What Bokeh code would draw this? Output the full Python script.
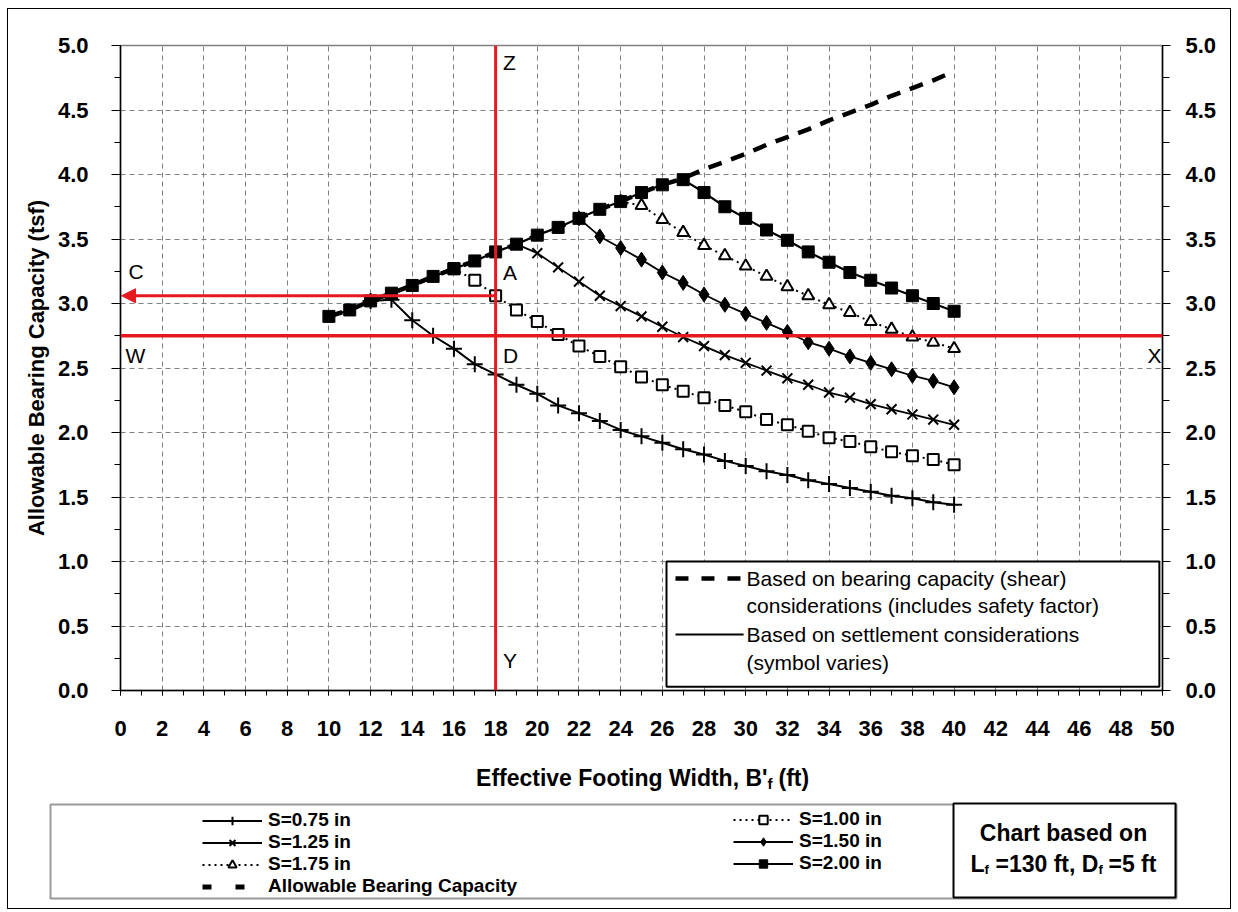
from bokeh.plotting import figure
from bokeh.models import (Range1d, LinearAxis, SingleIntervalTicker, NumeralTickFormatter, Div,
                          Span, Arrow, NormalHead, Label, BoxAnnotation, Legend, LegendItem, Grid)
from bokeh.embed import file_html
from bokeh.resources import INLINE

# ---------------- data ----------------
width_bc = list(range(10, 41))
bearing_tsf = [2.90, 2.95, 3.02, 3.08, 3.14, 3.21, 3.27, 3.33, 3.40, 3.46, 3.53, 3.59, 3.66,
               3.73, 3.79, 3.86, 3.92, 3.97, 4.04, 4.10, 4.16, 4.23, 4.29, 4.35, 4.42, 4.48,
               4.54, 4.61, 4.67, 4.73, 4.80]

width_075 = list(range(12, 41))
s075 = [3.02, 3.03, 2.87, 2.75, 2.65, 2.53, 2.45, 2.37, 2.30, 2.21, 2.15, 2.09, 2.02, 1.97,
        1.92, 1.87, 1.83, 1.78, 1.74, 1.70, 1.67, 1.63, 1.60, 1.57, 1.54, 1.51, 1.49, 1.46, 1.44]

width_100 = list(range(16, 41))
s100 = [3.27, 3.18, 3.06, 2.95, 2.86, 2.76, 2.67, 2.59, 2.51, 2.43, 2.37, 2.32, 2.27, 2.21,
        2.16, 2.10, 2.06, 2.01, 1.96, 1.93, 1.89, 1.85, 1.82, 1.79, 1.75]

width_125 = list(range(19, 41))
s125 = [3.46, 3.39, 3.28, 3.17, 3.06, 2.98, 2.90, 2.82, 2.74, 2.67, 2.60, 2.54, 2.48, 2.42,
        2.37, 2.31, 2.27, 2.22, 2.18, 2.14, 2.10, 2.06]

width_150 = list(range(22, 41))
s150 = [3.66, 3.52, 3.43, 3.34, 3.24, 3.16, 3.07, 2.99, 2.92, 2.85, 2.78, 2.70, 2.65, 2.59,
        2.54, 2.49, 2.44, 2.40, 2.35]

width_175 = list(range(24, 41))
s175 = [3.79, 3.76, 3.65, 3.55, 3.45, 3.37, 3.29, 3.21, 3.13, 3.06, 2.99, 2.93, 2.86, 2.80,
        2.74, 2.70, 2.65]

width_200 = list(range(10, 41))
s200 = [2.90, 2.95, 3.02, 3.08, 3.14, 3.21, 3.27, 3.33, 3.40, 3.46, 3.53, 3.59, 3.66, 3.73,
        3.79, 3.86, 3.92, 3.96, 3.86, 3.75, 3.66, 3.57, 3.49, 3.40, 3.32, 3.24, 3.18, 3.12,
        3.06, 3.00, 2.94]

example_width = 18
example_capacity = 3.06
design_capacity = 2.75

x_labels_step = 2
y_labels_step = 0.5

# ---------------- styling ----------------
RED = "#e5191f"
FONT = "Liberation Sans"
CANVAS_W = 1224

p = figure(width=CANVAS_W, height=755, x_range=Range1d(0, 50), y_range=Range1d(0, 5),
           output_backend="svg", toolbar_location=None,
           x_axis_type=None, y_axis_type=None,
           min_border_left=112, min_border_right=70, min_border_top=36, min_border_bottom=74)
p.outline_line_color = "#808080"
p.outline_line_width = 1.5
p.background_fill_color = "white"
p.border_fill_color = "white"

xticker = SingleIntervalTicker(interval=x_labels_step, num_minor_ticks=2)
yticker = SingleIntervalTicker(interval=y_labels_step, num_minor_ticks=2)


def style_axis(ax):
    ax.axis_line_color = "black"
    ax.axis_line_width = 1.5
    ax.major_tick_line_color = "black"
    ax.minor_tick_line_color = "black"
    ax.major_tick_line_width = 1
    ax.minor_tick_line_width = 1
    ax.major_tick_in = 0
    ax.minor_tick_in = 0
    ax.major_label_text_font = FONT
    ax.major_label_text_font_style = "bold"
    ax.major_label_text_font_size = "22px"
    ax.major_label_text_color = "black"


xaxis = LinearAxis(ticker=xticker)
style_axis(xaxis)
xaxis.major_tick_out = 5
xaxis.minor_tick_out = 5
xaxis.major_label_standoff = 25
p.add_layout(xaxis, "below")

yaxis = LinearAxis(ticker=yticker, formatter=NumeralTickFormatter(format="0.0"),
                   axis_label="Allowable Bearing Capacity (tsf)")
style_axis(yaxis)
yaxis.major_tick_out = 9
yaxis.minor_tick_out = 6
yaxis.major_label_standoff = 23
yaxis.axis_label_text_font = FONT
yaxis.axis_label_text_font_style = "bold"
yaxis.axis_label_text_font_size = "22px"
yaxis.axis_label_text_color = "black"
yaxis.axis_label_standoff = 6
p.add_layout(yaxis, "left")

yaxis_r = LinearAxis(ticker=yticker, formatter=NumeralTickFormatter(format="0.0"))
style_axis(yaxis_r)
yaxis_r.major_tick_out = 8
yaxis_r.minor_tick_out = 7
yaxis_r.major_label_standoff = 15
p.add_layout(yaxis_r, "right")

p.add_layout(Grid(dimension=0, ticker=xticker, grid_line_color="#808080",
                  grid_line_dash="5 4", grid_line_width=1))
p.add_layout(Grid(dimension=1, ticker=yticker, grid_line_color="#808080",
                  grid_line_dash="5 4", grid_line_width=1))

# ---------------- series ----------------
STY = {
    "bc": dict(line_color="black", line_width=4.5, line_dash="14 10"),
    "075": (dict(line_color="black", line_width=2),
            dict(marker="cross", size=16, line_color="black", line_width=2)),
    "100": (dict(line_color="black", line_width=2, line_dash="2 4"),
            dict(marker="square", size=11, line_color="black", fill_color="white", line_width=2)),
    "125": (dict(line_color="black", line_width=1.8),
            dict(marker="x", size=14, line_color="black", line_width=2)),
    "150": (dict(line_color="black", line_width=1.8),
            dict(marker="diamond", size=15, line_color="black", fill_color="black")),
    "175": (dict(line_color="black", line_width=2, line_dash="2 4"),
            dict(marker="triangle", size=12, line_color="black", fill_color="white", line_width=2)),
    "200": (dict(line_color="black", line_width=2.2),
            dict(marker="square", size=12, line_color="black", fill_color="black")),
}

p.line(width_bc, bearing_tsf, **STY["bc"])
for xs, ys, key in [(width_075, s075, "075"), (width_100, s100, "100"), (width_125, s125, "125"),
                    (width_150, s150, "150"), (width_175, s175, "175"), (width_200, s200, "200")]:
    p.line(xs, ys, **STY[key][0])
    p.scatter(xs, ys, **STY[key][1])

# ---------------- red reading guides ----------------
p.add_layout(Span(location=example_width, dimension="height", line_color=RED, line_width=3))
p.add_layout(Span(location=design_capacity, dimension="width", line_color=RED, line_width=3.5))
p.add_layout(Arrow(end=NormalHead(size=14, fill_color=RED, line_color=RED),
                   x_start=example_width, y_start=example_capacity, x_end=0.05,
                   y_end=example_capacity, line_color=RED, line_width=3))


def lab(fig, x, y, text, size="21px", align="left", style="normal", x_offset=0):
    fig.add_layout(Label(x=x, y=y, text=text, text_font=FONT, text_font_size=size,
                         text_font_style=style, text_align=align, text_baseline="middle",
                         text_color="black", x_offset=x_offset))


lab(p, 18.35, 4.87, "Z")
lab(p, 18.35, 3.24, "A")
lab(p, 18.35, 2.60, "D")
lab(p, 18.35, 0.23, "Y")
lab(p, 0.38, 3.25, "C")
lab(p, 0.24, 2.60, "W")
lab(p, 49.95, 2.60, "X", align="right")

# ---------------- inner key box ----------------
p.add_layout(BoxAnnotation(left=26.2, right=49.85, top=1.0, bottom=0.03,
                           fill_color="white", fill_alpha=1, line_color="black",
                           line_width=2, line_alpha=1))
p.add_layout(Arrow(end=None, x_start=26.63, x_end=29.9, y_start=0.868, y_end=0.868,
                   line_color="black", line_width=4.5, line_dash="13 13"))
p.add_layout(Arrow(end=None, x_start=26.63, x_end=29.9, y_start=0.434, y_end=0.434,
                   line_color="black", line_width=2))
lab(p, 30.04, 0.868, "Based on bearing capacity (shear)")
lab(p, 30.04, 0.659, "considerations (includes safety factor)")
lab(p, 30.04, 0.434, "Based on settlement considerations")
lab(p, 30.04, 0.217, "(symbol varies)")

# ---------------- lower panel: axis title and legends (page-pixel coordinates) ----------------
P2_TOP, P2_BOTTOM = 764, 909
p2 = figure(width=CANVAS_W, height=P2_BOTTOM - P2_TOP, x_range=Range1d(8, 8 + CANVAS_W),
            y_range=Range1d(P2_BOTTOM, P2_TOP), output_backend="svg", toolbar_location=None,
            x_axis_type=None, y_axis_type=None,
            min_border=0, min_border_left=0, min_border_right=0, min_border_top=0,
            min_border_bottom=0)
p2.outline_line_color = None
p2.grid.visible = False
p2.background_fill_color = "white"
p2.border_fill_color = "white"

# x axis title with subscript
lab(p2, 642, 777, "Effective Footing Width, B'", size="23px", style="bold", align="right", x_offset=125)
lab(p2, 642, 783, "f", size="15px", style="bold", x_offset=125)
lab(p2, 642, 777, "(ft)", size="23px", style="bold", x_offset=136)

# legend frame
p2.add_layout(BoxAnnotation(left=50, right=1176, top=804, bottom=898, fill_alpha=0,
                            line_color="#9a9a9a", line_width=2, line_alpha=1))

# legend keys: renderers carrying the series styles, with one point outside the visible range
OFF = [-500]
k = {}
for key in ["075", "100", "125", "150", "175", "200"]:
    k[key] = [p2.line(OFF, OFF, **STY[key][0]), p2.scatter(OFF, OFF, **STY[key][1])]
k_bc = [p2.line(OFF, OFF, line_color="black", line_width=5, line_dash="9 24")]

common = dict(border_line_alpha=0, background_fill_alpha=0, padding=0, margin=0, spacing=0,
              label_standoff=6, glyph_width=60, glyph_height=21, label_height=21,
              label_text_font=FONT, label_text_font_size="19px", label_text_font_style="bold",
              label_text_color="black")
leg_left = Legend(items=[
    LegendItem(label="S=0.75 in", renderers=k["075"]),
    LegendItem(label="S=1.25 in", renderers=k["125"]),
    LegendItem(label="S=1.75 in", renderers=k["175"]),
    LegendItem(label="Allowable Bearing Capacity", renderers=k_bc),
], location=(194, 12), **common)
leg_right = Legend(items=[
    LegendItem(label="S=1.00 in", renderers=k["100"]),
    LegendItem(label="S=1.50 in", renderers=k["150"]),
    LegendItem(label="S=2.00 in", renderers=k["200"]),
], location=(725, 35), **common)
p2.add_layout(leg_left)
p2.add_layout(leg_right)

# chart-basis box
p2.add_layout(BoxAnnotation(left=953, right=1175, top=803, bottom=897,
                            fill_color="white", fill_alpha=1, line_color="black",
                            line_width=2, line_alpha=1))
lab(p2, 1063, 832, "Chart based on", size="23px", style="bold", align="center")
lab(p2, 1063, 863, "L", size="23px", style="bold", x_offset=-93)
lab(p2, 1063, 869, "f", size="13px", style="bold", x_offset=-79)
lab(p2, 1063, 863, "=130 ft, D", size="23px", style="bold", x_offset=-68)
lab(p2, 1063, 869, "f", size="13px", style="bold", x_offset=35)
lab(p2, 1063, 863, "=5 ft", size="23px", style="bold", x_offset=45)

# ---------------- page placement ----------------
p.styles = {"position": "absolute", "left": "8px", "top": "9px"}
p2.styles = {"position": "absolute", "left": "8px", "top": f"{P2_TOP}px"}
outer_frame = Div(
    text=('<div style="position:fixed;left:7px;top:8px;width:1224px;height:901px;'
          'border:1px solid black;pointer-events:none;"></div>'),
    styles={"position": "absolute", "left": "0px", "top": "0px"})

open("out.html", "w").write(file_html([p, p2, outer_frame], INLINE))
